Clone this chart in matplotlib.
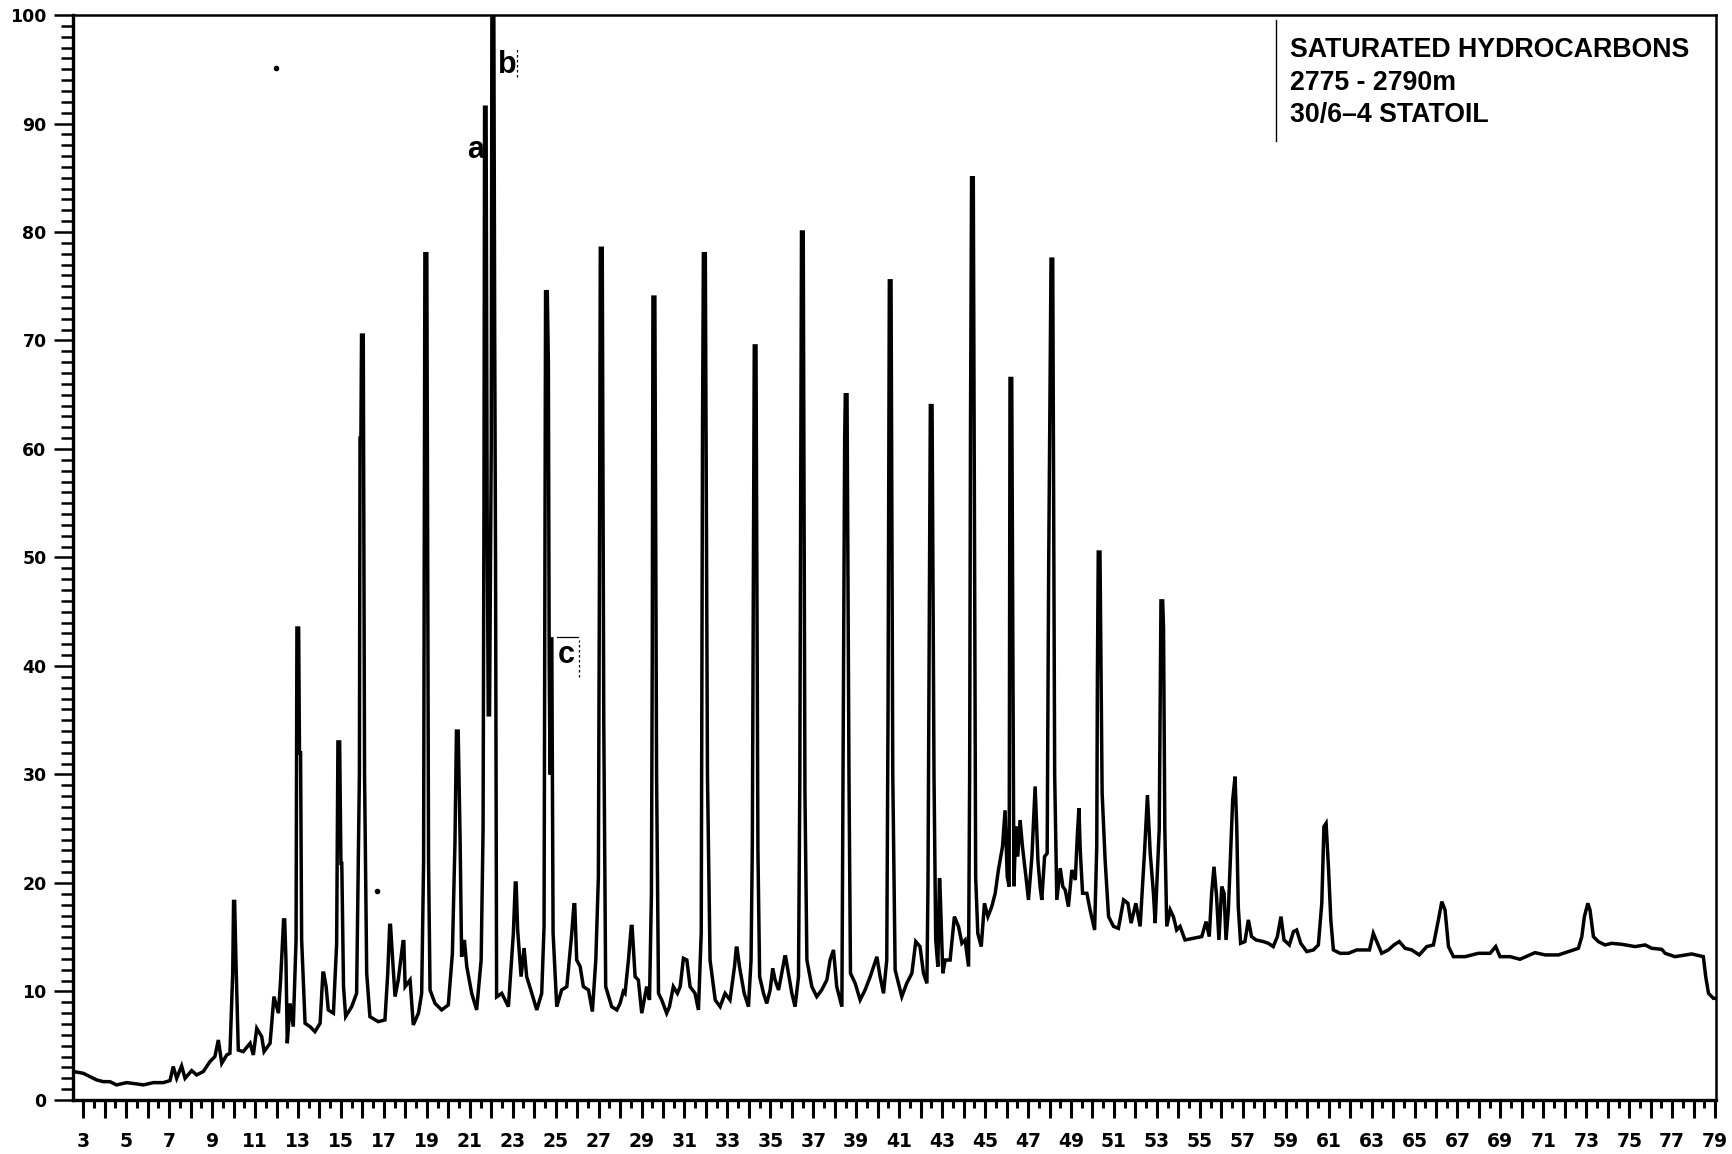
import numpy as np
import matplotlib.pyplot as plt
from matplotlib.ticker import FixedLocator, MultipleLocator

# retention time (x) and detector response (%)
trace = [
    (2.53, 2.65), (2.61, 2.6), (3.0, 2.46), (3.31, 2.15), (3.62, 1.85), (3.93, 1.69), (4.24, 1.69),
    (4.55, 1.39), (5.02, 1.6), (5.49, 1.48), (5.8, 1.39), (6.26, 1.6), (6.73, 1.6), (7.04, 1.79),
    (7.19, 3.08), (7.35, 2.0), (7.58, 3.14), (7.74, 2.0), (8.05, 2.71), (8.28, 2.31), (8.59, 2.62),
    (8.9, 3.54), (9.13, 4.0), (9.29, 5.53), (9.45, 3.38), (9.68, 4.15), (9.83, 4.3), (9.96, 11.7),
    (10.0, 18.3), (10.05, 18.3), (10.11, 12.9), (10.22, 4.6), (10.45, 4.46), (10.77, 5.23), (10.92, 4.15),
    (11.08, 6.6), (11.31, 5.84), (11.42, 4.46), (11.7, 5.23), (11.88, 9.53), (12.09, 8.0), (12.19, 11.06),
    (12.33, 16.6), (12.38, 16.6), (12.44, 12.9), (12.5, 5.23), (12.63, 8.9), (12.78, 6.76), (12.91, 14.75),
    (12.95, 43.5), (13.03, 43.5), (13.07, 32), (13.12, 32), (13.17, 14.75), (13.33, 7.07), (13.56, 6.76),
    (13.79, 6.3), (14.03, 7.07), (14.16, 11.7), (14.2, 11.7), (14.31, 10.45), (14.41, 8.3), (14.65, 8.0),
    (14.8, 14.4), (14.86, 33), (14.94, 33), (15.0, 21.8), (15.04, 21.8), (15.12, 10.45), (15.22, 7.7),
    (15.5, 8.6), (15.73, 9.83), (15.86, 30), (15.89, 61), (15.93, 61), (15.96, 70.5), (16.04, 70.5),
    (16.1, 30), (16.2, 11.68), (16.35, 7.68), (16.74, 7.22), (17.05, 7.38), (17.18, 11.68), (17.27, 16.1),
    (17.31, 16.1), (17.39, 13.5), (17.52, 9.53), (17.67, 11.06), (17.89, 14.6), (17.93, 14.6), (17.99, 10.45),
    (18.22, 11.06), (18.37, 6.92), (18.61, 8.0), (18.76, 9.83), (18.85, 22), (18.91, 78), (19.0, 78),
    (19.08, 22), (19.15, 10.14), (19.38, 8.91), (19.69, 8.3), (20.0, 8.76), (20.19, 13.5), (20.31, 23.7),
    (20.38, 34), (20.46, 34), (20.55, 24), (20.62, 13.2), (20.75, 14.75), (20.86, 12.3), (21.09, 9.83),
    (21.32, 8.3), (21.53, 12.9), (21.62, 25), (21.66, 54), (21.69, 91.5), (21.76, 91.5), (21.81, 54),
    (21.86, 35.5), (21.92, 35.5), (22.0, 60), (22.03, 101), (22.12, 101), (22.16, 71), (22.2, 50),
    (22.25, 9.5), (22.49, 9.83), (22.8, 8.6), (23.03, 15.36), (23.12, 20), (23.16, 20), (23.23, 15.67),
    (23.39, 11.37), (23.53, 14), (23.65, 11.37), (23.89, 9.83), (24.12, 8.3), (24.35, 9.83), (24.46, 16),
    (24.53, 74.5), (24.61, 74.5), (24.66, 68), (24.7, 40), (24.74, 30), (24.77, 42.5), (24.82, 42.5),
    (24.88, 15.4), (25.05, 8.6), (25.28, 10.14), (25.52, 10.45), (25.75, 15.36), (25.85, 18), (25.89, 18),
    (25.98, 12.9), (26.14, 12.3), (26.29, 10.45), (26.53, 10.14), (26.71, 8.15), (26.87, 12.9), (26.99, 20.6),
    (27.04, 49), (27.08, 78.5), (27.17, 78.5), (27.24, 35), (27.33, 10.45), (27.61, 8.6), (27.85, 8.3),
    (28.0, 8.91), (28.15, 10.0), (28.23, 9.83), (28.39, 12.9), (28.52, 16), (28.56, 16), (28.7, 11.37),
    (28.85, 11.06), (29.01, 8.0), (29.24, 10.45), (29.37, 9.22), (29.46, 19), (29.5, 41.5), (29.53, 74),
    (29.62, 74), (29.7, 30), (29.79, 9.83), (29.94, 9.22), (30.17, 8.0), (30.3, 8.6), (30.48, 10.45),
    (30.67, 9.83), (30.8, 10.45), (30.95, 13.06), (31.11, 12.9), (31.26, 10.45), (31.49, 9.83), (31.65, 8.3),
    (31.78, 15.4), (31.84, 62), (31.88, 78), (31.97, 78), (32.07, 30), (32.19, 12.9), (32.43, 9.22),
    (32.66, 8.6), (32.89, 9.83), (33.12, 9.22), (33.33, 12.3), (33.41, 14), (33.45, 14), (33.56, 12.3),
    (33.78, 9.83), (33.98, 8.6), (34.1, 12.9), (34.16, 23.7), (34.25, 69.5), (34.33, 69.5), (34.42, 23),
    (34.5, 11.37), (34.68, 9.83), (34.83, 8.9), (34.99, 10.14), (35.11, 12.14), (35.22, 11.06), (35.38, 10.14),
    (35.5, 11.37), (35.67, 13.2), (35.71, 13.2), (35.84, 11.68), (36.0, 9.83), (36.15, 8.6), (36.31, 11.37),
    (36.37, 29), (36.45, 80), (36.53, 80), (36.61, 28.3), (36.7, 12.9), (36.93, 10.45), (37.16, 9.53),
    (37.39, 10.14), (37.63, 11.06), (37.78, 12.9), (37.94, 13.83), (38.09, 10.45), (38.33, 8.6), (38.41, 40),
    (38.46, 61), (38.49, 65), (38.57, 65), (38.66, 30), (38.73, 11.68), (38.95, 10.75), (39.18, 9.22),
    (39.41, 10.14), (39.65, 11.37), (39.96, 13.2), (40.11, 11.37), (40.27, 9.83), (40.42, 12.9), (40.48, 36),
    (40.54, 75.5), (40.62, 75.5), (40.7, 30), (40.81, 11.99), (41.04, 10.14), (41.12, 9.53), (41.35, 10.75),
    (41.59, 11.68), (41.77, 14.6), (41.97, 14.14), (42.13, 11.68), (42.29, 10.75), (42.34, 20), (42.45, 64),
    (42.53, 64), (42.62, 30), (42.7, 14.75), (42.8, 12.3), (42.87, 20.3), (42.89, 20.3), (42.95, 16.6),
    (43.03, 11.68), (43.14, 12.9), (43.37, 12.9), (43.57, 16.9), (43.76, 16), (43.92, 14.44), (44.07, 14.75),
    (44.23, 12.3), (44.28, 30), (44.32, 62), (44.37, 85), (44.45, 85), (44.56, 20.6), (44.66, 15.36),
    (44.82, 14.14), (44.97, 18.13), (45.13, 16.9), (45.31, 17.82), (45.47, 19.05), (45.62, 21.2), (45.81, 23.35),
    (45.93, 26.7), (46.03, 20.6), (46.12, 19.67), (46.16, 66.5), (46.24, 66.5), (46.29, 43), (46.34, 19.7),
    (46.43, 25.2), (46.52, 22.43), (46.63, 25.8), (46.74, 23.35), (46.9, 20.6), (47.02, 18.44), (47.18, 22.43),
    (47.33, 28.9), (47.46, 22.1), (47.56, 19.67), (47.64, 18.44), (47.77, 22.43), (47.89, 22.74), (47.96, 49),
    (48.07, 77.5), (48.15, 77.5), (48.24, 30), (48.34, 18.44), (48.5, 21.36), (48.62, 19.67), (48.73, 19.36),
    (48.88, 17.82), (49.04, 21.2), (49.2, 20.28), (49.3, 24.6), (49.37, 26.9), (49.43, 23.05), (49.54, 19.05),
    (49.74, 19.05), (49.89, 17.52), (50.1, 15.67), (50.2, 23.35), (50.23, 39), (50.27, 50.5), (50.35, 50.5),
    (50.45, 28.3), (50.59, 22.1), (50.75, 16.9), (50.98, 16), (51.21, 15.82), (51.45, 18.44), (51.65, 18.13),
    (51.8, 16.3), (52.02, 18.13), (52.22, 16), (52.43, 23.05), (52.56, 28.1), (52.69, 22.74), (52.84, 19.05),
    (52.92, 16.3), (53.11, 25), (53.19, 46), (53.27, 46), (53.31, 43.5), (53.37, 25), (53.46, 16),
    (53.62, 17.52), (53.77, 16.9), (53.92, 15.67), (54.08, 16.0), (54.31, 14.75), (54.7, 14.9), (55.09, 15.06),
    (55.29, 16.44), (55.44, 15.06), (55.55, 19.05), (55.66, 21.5), (55.78, 18.74), (55.89, 14.75), (56.02, 19.67),
    (56.13, 19.05), (56.22, 14.75), (56.33, 17.52), (56.44, 23.05), (56.53, 27.65), (56.64, 29.8), (56.72, 25.2),
    (56.79, 17.82), (56.9, 14.44), (57.1, 14.6), (57.26, 16.6), (57.41, 15.06), (57.62, 14.75), (57.96, 14.6),
    (58.19, 14.44), (58.42, 14.14), (58.61, 15.06), (58.78, 16.9), (58.92, 14.75), (59.17, 14.29), (59.36, 15.52),
    (59.51, 15.67), (59.7, 14.44), (59.98, 13.68), (60.29, 13.83), (60.52, 14.29), (60.68, 18.13), (60.78, 25.2),
    (60.88, 25.5), (60.99, 21.5), (61.1, 16.6), (61.22, 13.83), (61.53, 13.52), (61.92, 13.52), (62.31, 13.83),
    (62.9, 13.83), (63.08, 15.36), (63.24, 14.6), (63.47, 13.52), (63.78, 13.83), (64.04, 14.29), (64.29, 14.6),
    (64.56, 13.98), (64.87, 13.83), (65.22, 13.37), (65.57, 14.14), (65.88, 14.29), (66.11, 16.6), (66.27, 18.28),
    (66.42, 17.52), (66.58, 14.14), (66.81, 13.21), (67.35, 13.21), (67.97, 13.52), (68.52, 13.52), (68.78, 14.14),
    (68.98, 13.21), (69.45, 13.21), (69.91, 12.97), (70.61, 13.58), (71.08, 13.37), (71.7, 13.37), (72.17, 13.68),
    (72.63, 13.98), (72.79, 15.06), (72.91, 16.9), (73.07, 18.13), (73.17, 17.52), (73.33, 15.06), (73.56, 14.6),
    (73.87, 14.29), (74.18, 14.44), (74.65, 14.35), (75.27, 14.14), (75.74, 14.29), (76.05, 13.98), (76.51, 13.89),
    (76.67, 13.52), (77.13, 13.21), (77.91, 13.46), (78.45, 13.21), (78.56, 11.37), (78.69, 9.83), (78.92, 9.37),
    (79.03, 9.37),
]
rt = [p[0] for p in trace]
response = [p[1] for p in trace]

x_major = list(range(3, 80))
x_labels = [str(i) if i % 2 else "" for i in x_major]
y_major = list(range(0, 101, 10))

title_lines = ["SATURATED HYDROCARBONS", "2775 - 2790m", "30/6\u20134 STATOIL"]
peak_marks = {"a": (21.25, 87.6), "b": (22.77, 95.4), "c": (25.48, 41.0)}

fig = plt.figure(figsize=(17.33, 11.54), dpi=100)
ax = fig.add_axes([0.0421, 0.0468, 0.9481, 0.9402])

ax.plot(rt, response, color="black", lw=2.5, solid_joinstyle="miter")

ax.set_xlim(2.52, 79.04)
ax.set_ylim(0, 100)

ax.xaxis.set_major_locator(FixedLocator(x_major))
ax.set_xticklabels(x_labels)
ax.xaxis.set_minor_locator(FixedLocator([i + 0.5 for i in x_major[:-1]]))
ax.set_yticks(y_major)
ax.yaxis.set_minor_locator(MultipleLocator(1))

ax.tick_params(axis="x", which="major", direction="out", length=13, width=2.2, pad=10, labelsize=13.5)
ax.tick_params(axis="x", which="minor", direction="out", length=6, width=2.2)
ax.tick_params(axis="y", which="major", direction="out", length=14, width=1.8, pad=5, labelsize=12.5)
ax.tick_params(axis="y", which="minor", direction="out", length=8.5, width=1.8)
for lab in ax.get_xticklabels() + ax.get_yticklabels():
    lab.set_fontweight("bold")

for side in ["left", "bottom"]:
    ax.spines[side].set_linewidth(2.4)
for side in ["top", "right"]:
    ax.spines[side].set_linewidth(1.8)

# header box in the top right corner
ax.plot([58.55, 58.55], [88.4, 99.5], color="black", lw=1.0)
for i, line in enumerate(title_lines):
    ax.text(59.2, 96.1 - i * 3.0, line, fontsize=19.3, fontweight="bold",
            family="Liberation Sans", va="baseline", ha="left")

for name, (px, py) in peak_marks.items():
    ax.text(px, py, name, fontsize=22, fontweight="bold", family="Liberation Sans",
            ha="center", va="center")
ax.plot([25.05, 26.03], [42.7, 42.7], color="black", lw=0.9)
ax.plot([26.08, 26.08], [39.0, 42.4], color="black", lw=0.9, ls=(0, (2, 2)))
ax.plot([23.2, 23.2], [94.3, 96.9], color="black", lw=0.9, ls=(0, (2, 2)))

# specks on the original scan
ax.plot([11.98, 16.68], [95.1, 19.3], "o", color="black", ms=3)

fig.savefig("out.png", dpi=100)
